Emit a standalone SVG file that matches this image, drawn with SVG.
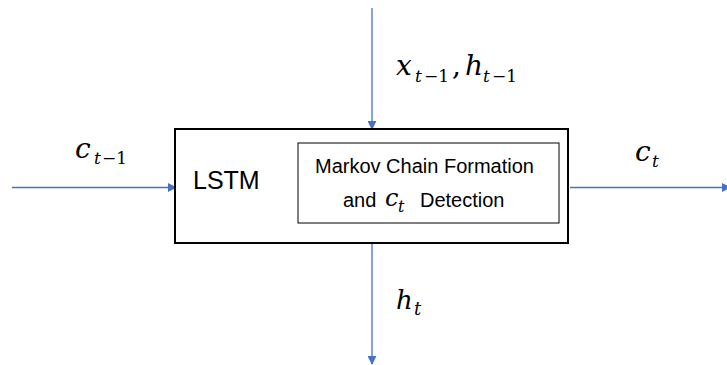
<svg xmlns="http://www.w3.org/2000/svg" width="727" height="365" viewBox="0 0 727 365">
<style>
.conn{stroke:#4472C4;stroke-width:1.3;fill:none}
.m{font-family:"DejaVu Serif","Liberation Serif",serif;font-style:italic;fill:#000}
.u{font-family:"DejaVu Serif","Liberation Serif",serif;font-style:normal}
.s{font-family:"Liberation Sans","Open Sans",sans-serif;fill:#000}
</style>
<defs>
<marker id="ah" viewBox="0 0 10 10" refX="9" refY="5" markerWidth="9" markerHeight="9" markerUnits="userSpaceOnUse" orient="auto">
<path d="M0,0 L10,5 L0,10 Z" fill="#4472C4"/>
</marker>
</defs>
<rect width="727" height="365" fill="#fff"/>
<g id="connectors">
<line class="conn" x1="12" y1="187.5" x2="176" y2="187.5" marker-end="url(#ah)"/>
<line class="conn" x1="372" y1="8" x2="372" y2="129" marker-end="url(#ah)"/>
<line class="conn" x1="372" y1="244" x2="372" y2="364" marker-end="url(#ah)"/>
<line class="conn" x1="570" y1="187.5" x2="730" y2="187.5" marker-end="url(#ah)"/>
</g>
<g id="lstm">
<rect x="175" y="129" width="393" height="114" fill="#fff" stroke="#000" stroke-width="2"/>
<text class="s" x="193" y="189" font-size="25">LSTM</text>
</g>
<g id="markov">
<rect x="298" y="143" width="261" height="80" fill="#fff" stroke="#000" stroke-width="1"/>
<text class="s" x="315" y="173" font-size="20">Markov Chain Formation</text>
<text class="s" x="343" y="207" font-size="20">and</text>
<text class="m" font-size="24"><tspan x="385" y="206">c</tspan><tspan font-size="16" x="398" y="212">t</tspan></text>
<text class="s" x="420" y="207" font-size="20">Detection</text>
</g>
<g id="labels">
<text class="m" font-size="28"><tspan x="75" y="158">c</tspan><tspan font-size="17" x="94" y="164">t</tspan><tspan class="u" font-size="17" x="102" y="164">−1</tspan></text>
<text class="m" font-size="28"><tspan x="396" y="75">x</tspan><tspan font-size="17" x="415" y="82">t</tspan><tspan class="u" font-size="17" x="424" y="82">−1</tspan><tspan class="u" x="452" y="75">,</tspan><tspan x="465" y="75">h</tspan><tspan font-size="17" x="483" y="82">t</tspan><tspan class="u" font-size="17" x="492" y="82">−1</tspan></text>
<text class="m" font-size="26"><tspan x="396" y="309">h</tspan><tspan font-size="18" x="414" y="315">t</tspan></text>
<text class="m" font-size="28"><tspan x="635" y="161">c</tspan><tspan font-size="17" x="652" y="167">t</tspan></text>
</g>
</svg>
